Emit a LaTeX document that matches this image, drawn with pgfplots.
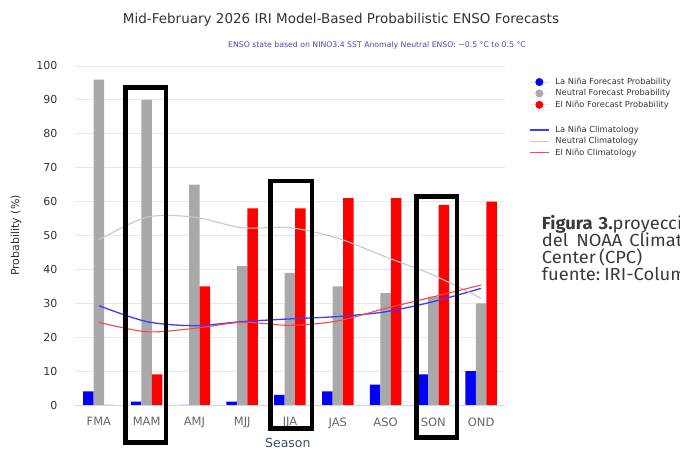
\documentclass[border=0pt]{standalone}
\usepackage{fontspec}
\setmainfont{DejaVu Sans}
\newfontfamily\capfont[FakeStretch=1.05]{Fira Sans}
\usepackage{pgfplots}
\usepackage{pgfplotstable}
\pgfplotsset{compat=1.18}

\definecolor{nina}{RGB}{0,0,255}
\definecolor{neut}{RGB}{169,169,169}
\definecolor{nino}{RGB}{255,0,0}
\definecolor{ninacl}{RGB}{60,60,255}
\definecolor{neutcl}{RGB}{200,200,200}
\definecolor{ninocl}{RGB}{255,70,70}
\definecolor{gridc}{RGB}{232,232,232}
\definecolor{axisc}{RGB}{204,214,235}
\definecolor{txt}{RGB}{51,51,51}
\definecolor{ticktxt}{RGB}{102,102,102}
\definecolor{subc}{RGB}{80,70,170}
\definecolor{seasonc}{RGB}{60,80,100}
\definecolor{captxt}{RGB}{58,58,58}

% x = season index, bars = forecast probabilities, cl* = climatology
\pgfplotstableread{
x lanina neutral elnino clnina clneut clnino
0  4 96  0 29.3 48.7 24.4
1  1 90  9 24.6 55.4 21.6
2  0 65 35 23.4 55.4 22.6
3  1 41 58 24.6 52.3 24.4
4  3 39 58 25.4 52.3 23.5
5  4 35 61 26.1 49.2 24.8
6  6 33 61 27.5 43.7 28.5
7  9 32 59 30.5 38.3 31.9
8 10 30 60 34.4 31.5 35.4
}\enso

\pgfplotsset{
  dotlegend/.style={legend image code/.code={%
      \path (0pt,0pt) -- (19pt,0pt);
      \fill[#1] (9.5pt,0pt) circle (4pt);}},
  linelegend/.style={legend image code/.code={%
      \draw[#1, line width=1.2pt] (0pt,0pt) -- (19pt,0pt);}},
}

\begin{document}
\begin{tikzpicture}
\useasboundingbox (0pt,0pt) rectangle (680pt,449pt);

\node[font=\fontsize{13.5}{15}\selectfont, text=txt] at (341pt,429pt)
  {Mid-February 2026 IRI Model-Based Probabilistic ENSO Forecasts};
\node[font=\fontsize{7.75}{9}\selectfont, text=subc] at (377pt,404pt)
  {ENSO state based on NINO3.4 SST Anomaly Neutral ENSO: −0.5 °C to 0.5 °C};

\begin{axis}[
  at={(75pt,44pt)}, anchor=south west,
  scale only axis, width=430pt, height=339pt,
  xmin=-0.5, xmax=8.5, ymin=0, ymax=100,
  xtick={0,...,8},
  xticklabels={FMA,MAM,AMJ,MJJ,JJA,JAS,ASO,SON,OND},
  ytick={0,10,...,100},
  axis lines*=left,
  x axis line style={draw=axisc, line width=0.8pt},
  y axis line style={draw=none},
  ymajorgrids, grid style={draw=gridc, line width=0.8pt},
  major tick length=0pt, tick style={draw=none},
  /pgf/number format/assume math mode=true,
  yticklabel style={font=\fontsize{11}{12}\selectfont, text=txt, anchor=east, xshift=-14pt},
  xticklabel style={font=\fontsize{11.5}{12}\selectfont, text=ticktxt, anchor=north, yshift=-9pt},
  ylabel={Probability (\%)}, xlabel={Season},
  every axis y label/.style={at={(axis description cs:-0.1372,0.5)}, rotate=90, anchor=center,
    font=\fontsize{11}{12}\selectfont, text=txt},
  every axis x label/.style={at={(axis description cs:0.495,-0.112)}, anchor=center,
    font=\fontsize{12.5}{13}\selectfont, text=seasonc},
  legend style={at={(axis description cs:1.056,0.968)}, anchor=north west,
    draw=none, fill=none, inner sep=0pt, row sep=1.4pt, column sep=5pt,
    font=\fontsize{8.3}{9}\selectfont, text=txt,
    nodes={inner sep=1pt, text height=6.3pt, text depth=1.7pt}},
  legend cell align=left,
  clip=false,
]
\addplot[ybar, bar width=10.5pt, bar shift=-10.5pt, fill=nina, draw=none, dotlegend=nina]
  table[x=x, y=lanina] {\enso};
\addlegendentry{La Niña Forecast Probability}
\addplot[ybar, bar width=10.5pt, bar shift=0pt, fill=neut, draw=none, dotlegend=neut]
  table[x=x, y=neutral] {\enso};
\addlegendentry{Neutral Forecast Probability}
\addplot[ybar, bar width=10.5pt, bar shift=10.5pt, fill=nino, draw=none, dotlegend=nino]
  table[x=x, y=elnino] {\enso};
\addlegendentry{El Niño Forecast Probability}

% spacer row between the two groups of the legend (a white stroke on white)
\addlegendimage{legend image code/.code={\draw[white] (0pt,-6pt) -- (0pt,6pt);}}
\addlegendentry{}

\addplot[smooth, ninacl, line width=1.3pt, linelegend=ninacl] table[x=x, y=clnina] {\enso};
\addlegendentry{La Niña Climatology}
\addplot[smooth, neutcl, line width=1.1pt, linelegend=neutcl] table[x=x, y=clneut] {\enso};
\addlegendentry{Neutral Climatology}
\addplot[smooth, ninocl, line width=1.1pt, linelegend=ninocl] table[x=x, y=clnino] {\enso};
\addlegendentry{El Niño Climatology}
\end{axis}

% highlight boxes
\draw[line width=4.5pt] (125.3pt,6.5pt) rectangle (166pt,361.7pt);
\draw[line width=4.5pt] (270.3pt,20.5pt) rectangle (312.2pt,268pt);
\draw[line width=4.5pt] (416.5pt,11.5pt) rectangle (457pt,252.5pt);

% caption (cut off at the right edge, as in the source)
\begin{scope}[every node/.style={anchor=base west, inner sep=0pt, text=captxt,
    font=\capfont\fontsize{17.5}{17}\selectfont}]
\node at (541.7pt,219.7pt) {\textbf{Figura\hspace{6pt}3.}proyección ENSO};
\node at (541.7pt,202.3pt) {del\hspace{8pt}NOAA\hspace{7pt}Climate Prediction};
\node at (541.7pt,185.7pt) {Center\hspace{3pt}(CPC)};
\node at (541.7pt,168pt) {fuente:\hspace{4pt}IRI-Columbia};
\end{scope}
\end{tikzpicture}
\end{document}
